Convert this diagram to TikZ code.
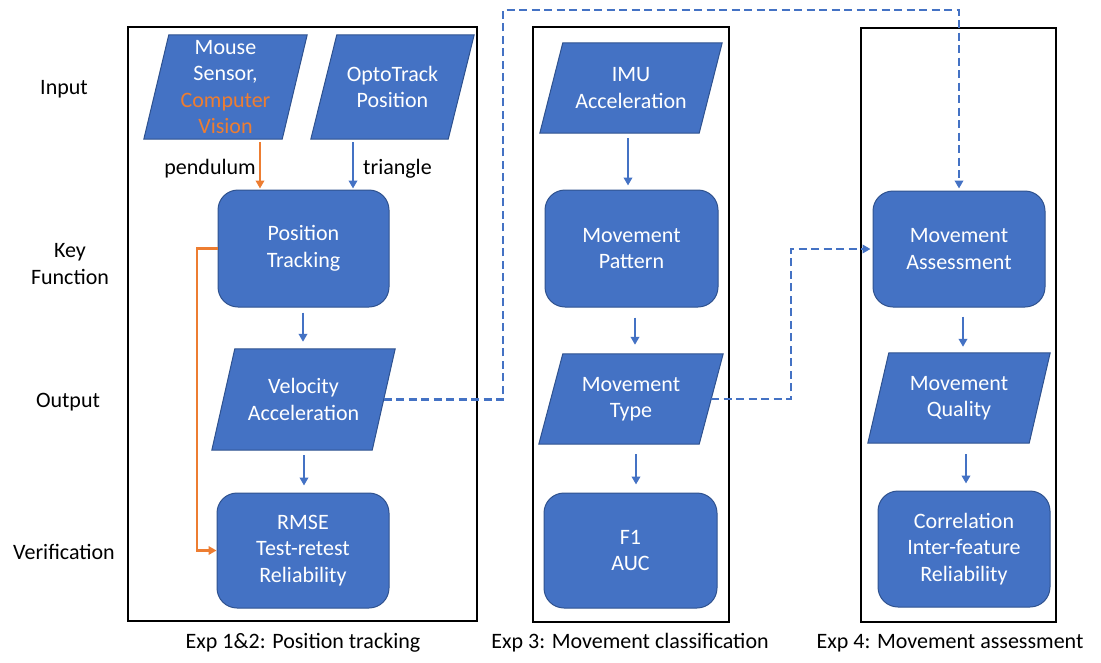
\documentclass[tikz,border=0pt]{standalone}
\usepackage{fontspec}
\setmainfont{Carlito}
\usetikzlibrary{arrows.meta,calc}
\definecolor{boxblue}{HTML}{4472C4}
\definecolor{boxedge}{HTML}{2F528F}
\definecolor{accent}{HTML}{ED7D31}
\pgfdeclarelayer{shapes}
\pgfsetlayers{shapes,main}

\tikzset{
  lbl/.style={font=\fontsize{22}{26.5}\selectfont, align=center, inner sep=0pt},
  note/.style={lbl, yshift=-2pt},
  boxtext/.style={lbl, text=white},
  keybox/.style={boxtext, draw=boxedge, fill=boxblue, line width=1pt, rounded corners=20pt},
  iofill/.style={draw=boxedge, fill=boxblue, line width=1pt},
  panel/.style={draw=black, line width=1.8pt, inner sep=0pt},
  flow/.style={draw=boxblue, line width=2.3pt, -{Triangle[length=8pt,width=8.5pt]}},
  trace/.style={flow, draw=accent},
  link/.style={draw=boxblue, line width=2.6pt, dash pattern=on 8pt off 4.5pt,
               -{Triangle[length=8pt,width=8.5pt]}}
}

% data box (parallelogram): name, centre, width, height, half slant, text
\newcommand\iobox[6]{%
  \node[boxtext, minimum width=#3pt, minimum height=#4pt] (#1) at #2 {#6};
  \begin{pgfonlayer}{shapes}
    \filldraw[iofill] ($(#1.north west)+(#5,0)$) -- ($(#1.north east)+(#5,0)$)
      -- ($(#1.south east)-(#5,0)$) -- ($(#1.south west)-(#5,0)$) -- cycle;
  \end{pgfonlayer}}

\begin{document}
\begin{tikzpicture}[x=1pt,y=-1pt]
\useasboundingbox (0,0) rectangle (1101,662);

% experiment panels
\node[panel, minimum width=349pt, minimum height=594pt] (panA) at (302.5,324) {};
\node[panel, minimum width=196pt, minimum height=595pt] (panB) at (631,324.5) {};
\node[panel, minimum width=195pt, minimum height=594pt] (panC) at (958.5,325) {};

% row labels
\node[note] (rowin)  at (64,87)  {Input};
\node[note] (rowkey) at (70,262) {Key\\Function};
\node[note] (rowout) at (68,400) {Output};
\node[note] (rowver) at (64,550) {Verification};

% Exp 1&2
\iobox{mouse}{(225.5,87)}{138}{104}{12.5}{Mouse\\Sensor,\\\textcolor{accent}{Computer}\\\textcolor{accent}{Vision}}
\iobox{opto}{(392.5,87)}{137}{104}{13}{OptoTrack\\Position}
\node[keybox, minimum width=171pt, minimum height=117pt] (pt) at (303.5,248.5) {Position\\Tracking};
\iobox{vel}{(303.5,399.5)}{160}{101}{11.5}{Velocity\\Acceleration}
\node[keybox, minimum width=172pt, minimum height=115pt] (rmse) at (303,550.5) {RMSE\\Test-retest\\Reliability};

% Exp 3
\iobox{imu}{(631,88)}{159}{90}{11.5}{IMU\\Acceleration}
\node[keybox, minimum width=173pt, minimum height=117pt] (mp) at (631.5,248.5) {Movement\\Pattern};
\iobox{mt}{(631,399)}{160}{90}{12}{Movement\\Type}
\node[keybox, minimum width=173pt, minimum height=115pt] (fone) at (630.5,550.5) {F1\\AUC};

% Exp 4
\node[keybox, minimum width=172pt, minimum height=116pt] (ma) at (959,249) {Movement\\Assessment};
\iobox{mq}{(959,398)}{161}{90}{10.5}{Movement\\Quality}
\node[keybox, minimum width=172pt, minimum height=116pt] (corr) at (964,549) {Correlation\\Inter-feature\\Reliability};

% captions
\node[note] (capA) at (303,641) {Exp 1\&2: Position tracking};
\node[note] (capB) at (630,641) {Exp 3: Movement classification};
\node[note] (capC) at (950,641) {Exp 4: Movement assessment};

% arrow columns
\coordinate (xa) at (260,0);
\coordinate (xb) at (353,0);
\coordinate (xc) at (303,0);
\coordinate (xd) at (304,0);
\coordinate (xe) at (628,0);
\coordinate (xf) at (635,0);
\coordinate (xg) at (636,0);
\coordinate (xh) at (963,0);
\coordinate (xi) at (966,0);
\coordinate (xo) at (197,0);

% flow arrows
\draw[trace, shorten <=3pt, shorten >=1pt] (mouse.south -| xa) -- (pt.north -| xa);
\node[note, anchor=east] (lpend) at (256,167) {pendulum};
\draw[flow, shorten <=3pt, shorten >=1pt] (opto.south -| xb) -- (pt.north -| xb);
\node[note, anchor=west] (ltri) at (363,167) {triangle};
\draw[flow, shorten <=5pt, shorten >=7pt] (pt.south -| xc) -- (vel.north -| xc);
\draw[flow, shorten <=5pt, shorten >=7pt] (vel.south -| xd) -- (rmse.north -| xd);
\draw[trace] (pt.west) -- (pt.west -| xo) -- (rmse.west -| xo) -- (rmse.west);

\draw[flow, shorten <=5pt, shorten >=4pt] (imu.south -| xe) -- (mp.north -| xe);
\draw[flow, shorten <=10pt, shorten >=9pt] (mp.south -| xf) -- (mt.north -| xf);
\draw[flow, shorten <=10pt, shorten >=8pt] (mt.south -| xg) -- (fone.north -| xg);

\draw[flow, shorten <=9pt, shorten >=6pt] (ma.south -| xh) -- (mq.north -| xh);
\draw[flow, shorten <=11pt, shorten >=7pt] (mq.south -| xi) -- (corr.north -| xi);

% links between experiments
\coordinate (ja) at (503,10);
\coordinate (jb) at (959,10);
\coordinate (jc) at (791,249);
\draw[link, shorten >=2pt] (vel.east) -| (ja) -- (jb) -- (ma.north);
\draw[link, shorten >=2pt] (mt.east) -| (jc) -- (ma.west);
\end{tikzpicture}
\end{document}
